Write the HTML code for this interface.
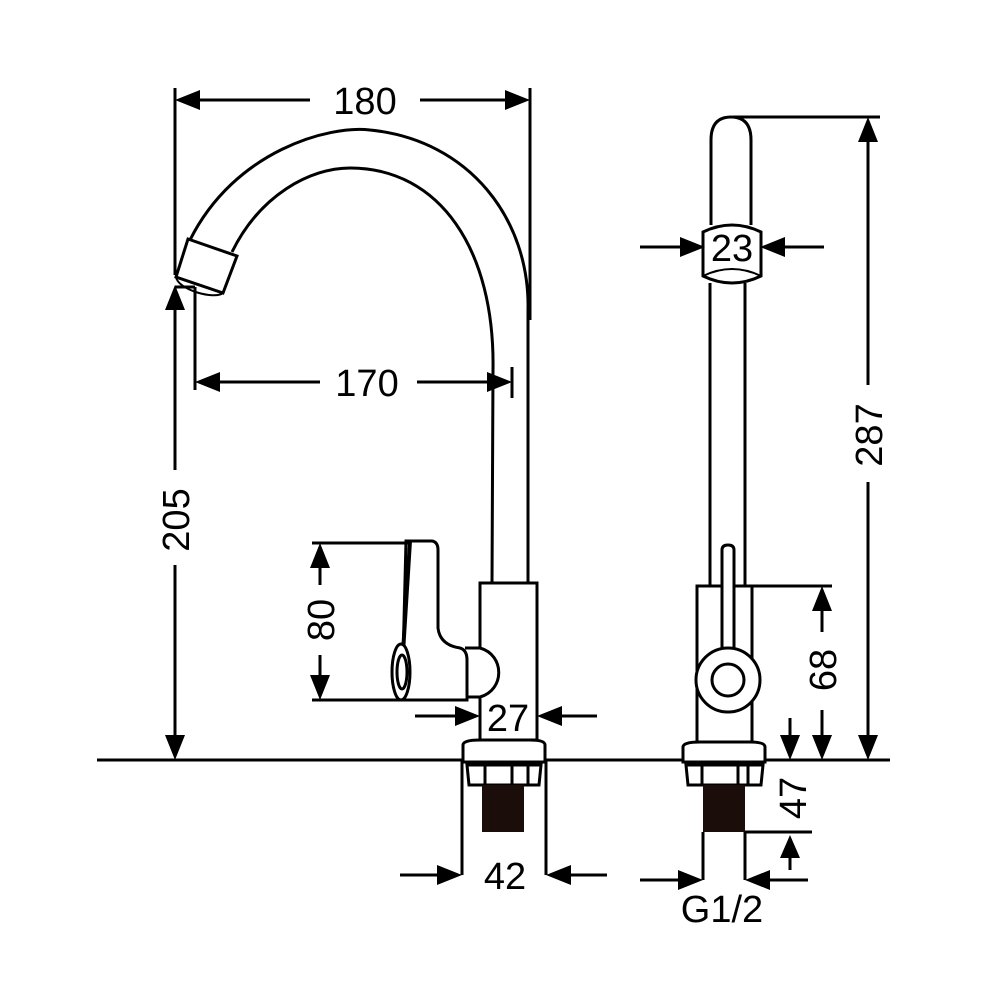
<!DOCTYPE html>
<html><head><meta charset="utf-8"><style>
html,body{margin:0;padding:0;background:#fff}
svg{display:block}
text{font-family:"Liberation Sans",sans-serif;font-size:38px;fill:#000}
</style></head><body>
<svg width="1000" height="1000" viewBox="0 0 1000 1000" xmlns="http://www.w3.org/2000/svg">
<g fill="none" stroke="#000" stroke-width="3">
<!-- ground -->
<line x1="97" y1="760" x2="890" y2="760" stroke-width="3"/>

<!-- LEFT FAUCET -->
<!-- spout outer -->
<path d="M190 240 C 235 150, 330 125, 370 130 C 470 140, 530 220, 528 310 L 528 583" stroke-width="3"/>
<!-- spout inner -->
<path d="M232 252 C 260 195, 310 168, 350 168 C 440 168, 495 250, 493 370 L 492 583" stroke-width="3"/>
<!-- nozzle -->
<path d="M188 239 L237 256 L223 293 L176 277 Z" fill="#fff" stroke-width="3"/>
<path d="M176 277 C 178 290, 215 300, 223 293" stroke-width="2"/>
<!-- body -->
<rect x="480" y="583" width="57" height="157" fill="#fff"/>
<!-- knob nub -->
<path d="M465 648 L480 648 C 505 655, 505 690, 480 697 L465 697" fill="#fff"/>
<!-- handle -->
<path d="M406 541 L432 541 Q438 542 438 550 L438 628 Q440 645 460 648 Q467 650 467 660 L467 700 L402 700 Z" fill="#fff"/>
<line x1="410" y1="541" x2="400" y2="700" stroke-width="4"/>
<ellipse cx="401" cy="672" rx="9" ry="28" fill="#fff"/>
<ellipse cx="402" cy="672" rx="5" ry="17"/>
<!-- base -->
<path d="M463 745 Q463 740 480 740 L530 740 Q545 740 545 745 L545 762 L463 762 Z" fill="#fff"/>
<path d="M467 765 L541 765 L539 785 L469 785 Z" fill="#fff"/>
<line x1="485" y1="765" x2="485" y2="785"/><line x1="512" y1="765" x2="512" y2="785"/><line x1="528" y1="765" x2="528" y2="785"/>
<rect x="482" y="785" width="42" height="47" fill="#1a0d0a" stroke="none"/>

<!-- RIGHT FAUCET -->
<path d="M711 225 L711 140 Q711 117 731 117 Q751 117 751 140 L751 225"/>
<path d="M710 283 L710 585 M745 283 L745 585"/>
<path d="M703 232 Q732 218 761 232 L761 276 Q732 290 703 276 Z" fill="#fff"/>
<path d="M703 276 Q732 262 761 276" stroke-width="2"/>
<rect x="697" y="586" width="55" height="156" fill="#fff"/>
<path d="M722 649 L722 550 Q722 545 728 545 Q734 545 734 550 L734 649" fill="#fff"/>
<circle cx="728" cy="680" r="32" fill="#fff"/>
<circle cx="728" cy="680" r="16"/>
<path d="M683 747 Q683 742 700 742 L750 742 Q765 742 765 747 L765 762 L683 762 Z" fill="#fff"/>
<path d="M686 765 L763 765 L761 785 L688 785 Z" fill="#fff"/>
<line x1="702" y1="765" x2="702" y2="785"/><line x1="738" y1="765" x2="738" y2="785"/><line x1="748" y1="765" x2="748" y2="785"/>
<rect x="703" y="785" width="42" height="47" fill="#1a0d0a" stroke="none"/>

<!-- DIMENSION LINES -->
<!-- 180 -->
<line x1="175" y1="88" x2="175" y2="275"/>
<line x1="530" y1="88" x2="530" y2="320"/>
<line x1="195" y1="100" x2="310" y2="100"/><line x1="420" y1="100" x2="510" y2="100"/>
<!-- 205 -->
<line x1="175" y1="300" x2="175" y2="470"/><line x1="175" y1="565" x2="175" y2="740"/>
<line x1="175" y1="287" x2="195" y2="287"/>
<!-- 170 -->
<line x1="195" y1="287" x2="195" y2="390"/>
<line x1="512" y1="367" x2="512" y2="398"/>
<line x1="215" y1="382" x2="320" y2="382"/><line x1="417" y1="382" x2="495" y2="382"/>
<!-- 80 -->
<line x1="312" y1="543" x2="408" y2="543"/><line x1="312" y1="700" x2="402" y2="700"/>
<line x1="320" y1="560" x2="320" y2="585"/><line x1="320" y1="655" x2="320" y2="685"/>
<!-- 27 -->
<line x1="415" y1="716" x2="460" y2="716"/><line x1="557" y1="716" x2="597" y2="716"/>
<!-- 42 -->
<line x1="462" y1="760" x2="462" y2="875"/><line x1="546" y1="760" x2="546" y2="875"/>
<line x1="400" y1="875" x2="445" y2="875"/><line x1="565" y1="875" x2="607" y2="875"/>
<!-- 23 -->
<line x1="640" y1="247" x2="685" y2="247"/><line x1="780" y1="247" x2="824" y2="247"/>
<!-- 287 -->
<line x1="733" y1="117" x2="880" y2="117"/>
<line x1="868" y1="135" x2="868" y2="385"/><line x1="868" y1="482" x2="868" y2="740"/>
<!-- 68 -->
<line x1="752" y1="586" x2="832" y2="586"/>
<line x1="822" y1="605" x2="822" y2="632"/><line x1="822" y1="710" x2="822" y2="740"/>
<!-- small down arrow -->
<line x1="790" y1="718" x2="790" y2="742"/>
<!-- 47 -->
<line x1="745" y1="832" x2="812" y2="832"/>
<line x1="790" y1="852" x2="790" y2="870"/>
<!-- G1/2 -->
<line x1="703" y1="832" x2="703" y2="880"/><line x1="745" y1="832" x2="745" y2="880"/>
<line x1="640" y1="880" x2="685" y2="880"/><line x1="763" y1="880" x2="808" y2="880"/>
</g>

<!-- ARROWHEADS -->
<g fill="#000">
<polygon points="175,100 200,90 200,110"/>
<polygon points="530,100 505,90 505,110"/>
<polygon points="175,285 165,310 185,310"/>
<polygon points="175,760 165,735 185,735"/>
<polygon points="195,382 220,372 220,392"/>
<polygon points="512,382 487,372 487,392"/>
<polygon points="320,543 310,568 330,568"/>
<polygon points="320,700 310,675 330,675"/>
<polygon points="480,716 455,706 455,726"/>
<polygon points="537,716 562,706 562,726"/>
<polygon points="462,875 437,865 437,885"/>
<polygon points="546,875 571,865 571,885"/>
<polygon points="705,247 680,237 680,257"/>
<polygon points="760,247 785,237 785,257"/>
<polygon points="868,117 858,142 878,142"/>
<polygon points="868,760 858,735 878,735"/>
<polygon points="822,586 812,611 832,611"/>
<polygon points="822,760 812,735 832,735"/>
<polygon points="790,760 780,735 800,735"/>
<polygon points="790,835 780,858 800,858"/>
<polygon points="703,880 678,870 678,890"/>
<polygon points="745,880 770,870 770,890"/>
</g>

<!-- LABELS -->
<text x="365" y="114" text-anchor="middle">180</text>
<text x="367" y="396" text-anchor="middle">170</text>
<text x="508" y="731" text-anchor="middle">27</text>
<text x="505" y="889" text-anchor="middle">42</text>
<text x="732" y="261" text-anchor="middle">23</text>
<text x="722" y="922" text-anchor="middle">G1/2</text>
<text transform="translate(189,520) rotate(-90)" text-anchor="middle">205</text>
<text transform="translate(334,620) rotate(-90)" text-anchor="middle">80</text>
<text transform="translate(882,435) rotate(-90)" text-anchor="middle">287</text>
<text transform="translate(836,670) rotate(-90)" text-anchor="middle">68</text>
<text transform="translate(806,798) rotate(-90)" text-anchor="middle">47</text>
</svg>
</body></html>
